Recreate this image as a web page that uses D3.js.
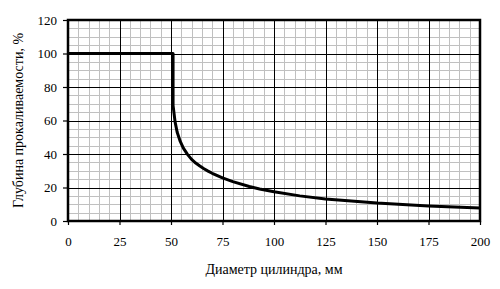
<!DOCTYPE html>
<html>
<head>
<meta charset="utf-8">
<script src="https://cdn.jsdelivr.net/npm/d3@7"></script>
<style>
  body { margin: 0; background: #fff; }
  text { font-family: "Liberation Serif", "Times New Roman", serif; fill: #000; }
</style>
</head>
<body>
<div id="chart"></div>
<script>
// diameter, mm
const diameter = [0, 51, 51, 52, 53, 54.5, 56, 58, 60, 62, 64, 66, 68, 70, 75, 80, 88, 93, 100, 112.5, 125, 137.5, 150, 162.5, 175, 187.5, 200]
// hardenability depth, %
const depth = [100, 100, 69, 59, 53, 47.5, 43.5, 39.8, 36.8, 34.6, 32.8, 31.2, 29.8, 28.5, 25.7, 23.5, 20.6, 19.1, 17.5, 15, 13.2, 12, 10.7, 9.8, 9, 8.4, 7.8]

const xTicks = [0, 25, 50, 75, 100, 125, 150, 175, 200]
const yTicks = [0, 20, 40, 60, 80, 100, 120]

const width = 500
const height = 289
const margin = {top: 20, right: 20, bottom: 68, left: 68}
const serif = '"Liberation Serif", "Times New Roman", serif'

const svg = d3.select('#chart').append('svg')
  .attr('width', width)
  .attr('height', height)

const x = d3.scaleLinear().domain([0, 200]).range([margin.left, width - margin.right])
const y = d3.scaleLinear().domain([0, 120]).range([height - margin.bottom, margin.top])

const g = svg.append('g')

// minor grid, every 5 units
g.selectAll('.vminor')
  .data(d3.range(5, 200, 5))
  .enter().append('line')
  .attr('x1', d => Math.round(x(d)) + 0.5).attr('x2', d => Math.round(x(d)) + 0.5)
  .attr('y1', y(0)).attr('y2', y(120))
  .attr('stroke', '#c0c0c0')

g.selectAll('.hminor')
  .data(d3.range(5, 120, 5))
  .enter().append('line')
  .attr('y1', d => Math.round(y(d)) + 0.5).attr('y2', d => Math.round(y(d)) + 0.5)
  .attr('x1', x(0)).attr('x2', x(200))
  .attr('stroke', '#c0c0c0')

// major grid
g.selectAll('.vmajor')
  .data(xTicks)
  .enter().append('line')
  .attr('x1', d => Math.round(x(d)) + 0.5).attr('x2', d => Math.round(x(d)) + 0.5)
  .attr('y1', y(0)).attr('y2', y(120))
  .attr('stroke', '#000')

g.selectAll('.hmajor')
  .data(yTicks)
  .enter().append('line')
  .attr('y1', d => Math.round(y(d)) + 0.5).attr('y2', d => Math.round(y(d)) + 0.5)
  .attr('x1', x(0)).attr('x2', x(200))
  .attr('stroke', '#000')

// frame
svg.append('rect')
  .attr('x', x(0)).attr('y', y(120))
  .attr('width', x(200) - x(0)).attr('height', y(0) - y(120))
  .attr('fill', 'none')
  .attr('stroke', '#000')
  .attr('stroke-width', 2.5)

// axes
const xAxis = svg.append('g')
  .attr('transform', 'translate(0,' + y(0) + ')')
  .call(d3.axisBottom(x).tickValues(xTicks).tickSize(4).tickPadding(12))
  .attr('font-family', serif)
  .attr('font-size', 13)
xAxis.select('.domain').remove()
xAxis.selectAll('line').attr('stroke', '#000').attr('stroke-width', 1.2)

const yAxis = svg.append('g')
  .attr('transform', 'translate(' + x(0) + ',0)')
  .call(d3.axisLeft(y).tickValues(yTicks).tickSize(5).tickPadding(6))
  .attr('font-family', serif)
  .attr('font-size', 13)
yAxis.select('.domain').remove()
yAxis.selectAll('line').attr('stroke', '#000').attr('stroke-width', 1.2)

// curve
const line = d3.line()
  .x((d, i) => x(diameter[i]))
  .y(d => y(d))

svg.append('path')
  .datum(depth)
  .attr('d', line)
  .attr('fill', 'none')
  .attr('stroke', '#000')
  .attr('stroke-width', 3)
  .attr('stroke-linejoin', 'round')

// labels
svg.append('text')
  .attr('x', (x(0) + x(200)) / 2)
  .attr('y', 274)
  .attr('text-anchor', 'middle')
  .style('font-size', '14px')
  .text('Диаметр цилиндра, мм')

svg.append('text')
  .attr('transform', 'translate(23,' + (y(0) + y(120)) / 2 + ') rotate(-90)')
  .attr('text-anchor', 'middle')
  .style('font-size', '14px')
  .text('Глубина прокаливаемости, %')
</script>
</body>
</html>
